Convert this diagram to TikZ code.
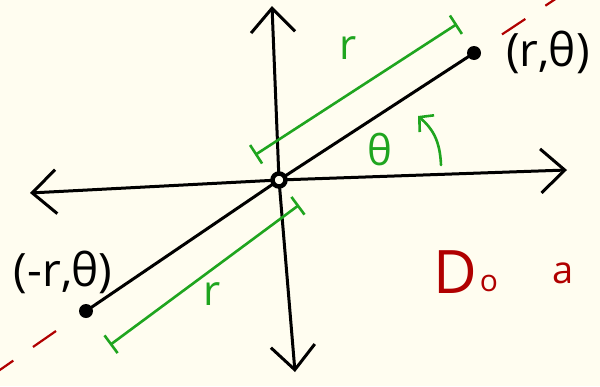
\documentclass[tikz,border=0pt]{standalone}
\usepackage{fontspec}
\setmainfont{Open Sans}
\usetikzlibrary{arrows.meta}
\definecolor{bgc}{HTML}{FFFDF0}
\definecolor{grn}{HTML}{1FA51F}
\definecolor{rd}{HTML}{B00000}
\begin{document}
\begin{tikzpicture}[x=1pt,y=-1pt,
  axis/.style={line width=3pt,line cap=round,line join=round,-{Straight Barb[length=24pt,width=44pt,line width=3pt]}},
  seg/.style={line width=3pt,line cap=round},
  dimline/.style={grn,line width=2.6pt,{Bar[width=22pt,line width=2.6pt]}-{Bar[width=22pt,line width=2.6pt]}},
  reddash/.style={rd,line width=2.2pt,dash pattern=on 28pt off 24pt},
  lbl/.style={font=\fontsize{46}{52}\selectfont,inner sep=0pt},
  glbl/.style={text=grn,font=\fontsize{42}{48}\selectfont,inner sep=0pt},
  rlbl/.style={text=rd,inner sep=0pt}
]
\fill[bgc] (0,0) rectangle (600,386);
\useasboundingbox (0,0) rectangle (600,386);
% key points
\coordinate (O) at (279,180);
\coordinate (top) at (272,6);
\coordinate (bot) at (295,372);
\coordinate (lft) at (30,193);
\coordinate (rgt) at (567,170);
\coordinate (P) at (474,53);
\coordinate (Q) at (86,311);
\coordinate (RE1) at (560,-4);
\coordinate (RE2) at (-6,374);
% red dashed line extensions
\draw[reddash] (P) ++(28,-18.6) -- (RE1);
\draw[reddash] (Q) ++(-30,20) -- (RE2);
% axes
\draw[axis] (O) -- (top);
\draw[axis] (O) -- (bot);
\draw[axis] (O) -- (lft);
\draw[axis] (O) -- (rgt);
% ray through the points
\draw[seg] (Q) -- (O) -- (P);
\fill (P) circle (7pt);
\fill (Q) circle (7pt);
\draw[line width=4.5pt,fill=bgc] (O) circle (6.5pt);
% green dimension lines
\coordinate (g1a) at (255,155);
\coordinate (g1b) at (457,24);
\coordinate (g2a) at (299,205);
\coordinate (g2b) at (110,345);
\draw[dimline] (g1a) -- (g1b);
\draw[dimline] (g2a) -- (g2b);
% green angle arrow
\coordinate (ga) at (441,165);
\coordinate (gb) at (418,116);
\draw[grn,line width=2.6pt,line cap=round,-{Straight Barb[length=10pt,width=22pt,line width=2.6pt]}] (ga) .. controls (440,140) and (432,128) .. (gb);
% labels
\node[lbl] (lp) at (548,52) {(r,θ)};
\node[lbl] (lq) at (63,272) {(-r,θ)};
\node[glbl] (rl1) at (348,48) {r};
\node[glbl,font=\fontsize{42}{48}\selectfont] (th) at (380,150) {θ};
\node[glbl] (rl2) at (212,294) {r};
\node[rlbl,font=\fontsize{60}{66}\selectfont] (D) at (455,272) {D};
\node[rlbl,font=\fontsize{30}{34}\selectfont] (o) at (489,283) {o};
\node[rlbl,font=\fontsize{38}{42}\selectfont] (a) at (563,273) {a};
\end{tikzpicture}
\end{document}
